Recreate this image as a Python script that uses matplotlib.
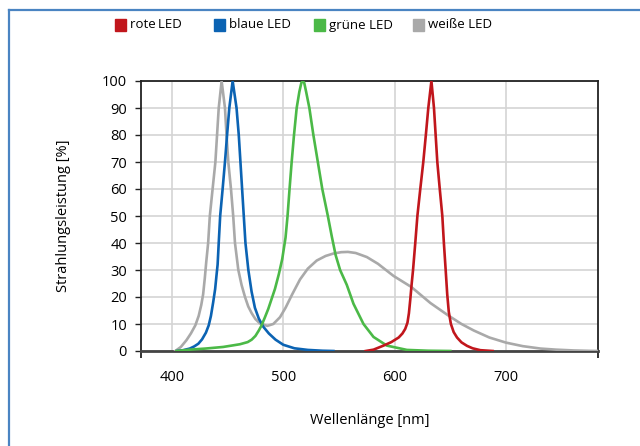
import matplotlib.pyplot as plt
from matplotlib.patches import Rectangle
from matplotlib.lines import Line2D

plt.rcParams['font.family'] = ['Open Sans', 'DejaVu Sans']

# white LED
gray_x = [403, 408, 413, 417, 421, 424, 426.3, 428, 429.5, 430.8, 432.5, 434, 436.5, 439, 440.5,
          442, 444.6, 447.6, 449, 450.6, 453, 455, 456.6, 459.6, 462.5, 465.6, 468.5, 471.6,
          475, 479, 485.6, 491, 497, 502, 508, 515, 522, 530, 538, 545, 552, 558, 565, 575,
          585, 599, 615, 632, 648, 660, 671, 685, 700, 715, 731, 745, 761, 775, 785]
gray_y = [0, 1.5, 4, 6.5, 9.5, 13, 17, 21, 27, 33, 40, 50, 60, 70, 80,
          90, 100, 90, 80, 70, 60, 50, 40, 30, 24.5, 20, 16.5, 14,
          11.8, 10.2, 9.3, 10, 12.5, 16, 21, 26.5, 30.5, 33.5, 35.2, 36.1, 36.6, 36.7, 36.3, 34.8,
          32.3, 27.8, 23.7, 17.8, 13.2, 10, 7.6, 5, 3.1, 1.8, 0.9, 0.5, 0.2, 0.05, 0]
# blue LED
blue_x = [404.5, 410, 416, 420, 423.7, 427, 430.5, 433, 435, 437, 438.8, 440, 441, 442, 443.3,
          445.5, 447.6, 449.5, 451.5, 454.5, 458, 460, 461.5, 463, 464.5, 466, 468.6, 471.5,
          474.5, 478, 482, 487, 493, 500, 510, 522, 535, 545]
blue_y = [0, 0.3, 0.9, 1.7, 2.7, 4.3, 6.8, 9.5, 13, 18, 23, 28, 32, 40, 50,
          60, 70, 80, 90, 100, 90, 80, 70, 60, 50, 40, 30, 22,
          16, 12, 9, 6.5, 4.2, 2.3, 1, 0.4, 0.1, 0]
# green LED
green_x = [404, 416, 430, 446, 461, 468, 471.6, 475, 478, 480.5, 483.5, 486.5, 489.5, 492.5, 496,
           499, 502, 503.8, 505.6, 507.5, 509.6, 512, 514.4, 516.2, 517.4, 518.8, 520.5, 523.4,
           527, 531, 535, 540, 543.5, 547, 551, 557, 563, 572, 581, 593, 611, 630, 650]
green_y = [0, 0.5, 0.9, 1.5, 2.5, 3.3, 4.2, 5.6, 7.6, 9.5, 12.5, 15.6, 19.3, 23, 28.5,
           34, 42, 50, 60, 70, 80, 90, 96, 99.3, 100, 99.3, 96, 90,
           80, 70, 60, 50, 42.5, 35.5, 30, 24.5, 17.5, 10, 5.2, 2, 0.4, 0.1, 0]
# red LED
red_x = [574, 581, 590, 597, 603.6, 607, 609.5, 611.5, 612.8, 614, 615.3, 616.5, 618.5, 620.4,
         623, 625.7, 628, 630.2, 633, 635.3, 636.8, 638.3, 640.5, 642.8, 644.2, 645.8, 647.2,
         648.6, 650.5, 653, 656, 660, 665, 670, 677, 688]
red_y = [0, 0.5, 2, 3.3, 5, 6.5, 8.2, 10.5, 14, 19, 25, 30, 40, 50,
         60, 70, 80, 90, 100, 90, 80, 70, 60, 50, 40, 30, 21,
         14.5, 10, 7, 5, 3.2, 1.9, 1, 0.3, 0]

labels = ['rote\u2009LED', 'blaue LED', 'grüne LED', 'weiße LED']
colors = ['#c1161c', '#0b63b3', '#4bb947', '#a9a9a9']

fig = plt.figure(figsize=(6.4, 4.46), dpi=100)
W, H = 640, 446
ax = fig.add_axes([141 / W, 1 - 351 / H, (598 - 141) / W, (351 - 81) / H])

ax.plot(gray_x, gray_y, color=colors[3], lw=1.9, zorder=3)
ax.plot(blue_x, blue_y, color=colors[1], lw=1.9, zorder=4)
ax.plot(green_x, green_y, color=colors[2], lw=1.9, zorder=4)
ax.plot(red_x, red_y, color=colors[0], lw=1.9, zorder=5)

xmin, xmax = 372.2, 782.6
ax.set_xlim(xmin, xmax)
ax.set_ylim(0, 100)
ax.set_xticks([400, 500, 600, 700])
ax.set_xticks([xmin, xmax], minor=True)
ax.set_yticks(range(0, 101, 10))
ax.grid(True, color='#d4d4d4', lw=1.2)
ax.set_axisbelow(True)
ax.tick_params(axis='x', length=0, labelsize=10.5, pad=14)
ax.tick_params(axis='x', which='minor', length=5, width=1.3, color='#222222')
ax.tick_params(axis='y', length=4, width=1, direction='out', labelsize=10.5, pad=6,
               color='#222222')
for s in ['left', 'top', 'right']:
    ax.spines[s].set_color('#222222')
    ax.spines[s].set_linewidth(1.3)
ax.spines['bottom'].set_color('#444444')
ax.spines['bottom'].set_linewidth(2)

ax.set_xlabel('Wellenlänge [nm]', fontsize=10.5, labelpad=20)
ax.set_ylabel('Strahlungsleistung [%]', fontsize=10.5, labelpad=22)

# legend along the top
for i, (lab, c) in enumerate(zip(labels, colors)):
    x0 = 115 + i * 99.3
    fig.add_artist(Rectangle((x0 / W, 1 - 31 / H), 11 / W, 12 / H, color=c,
                             transform=fig.transFigure))
    fig.text((x0 + 15) / W, 1 - 25 / H, lab, fontsize=9.5, va='center', ha='left')

# blue frame
fig.add_artist(Line2D([9 / W, 9 / W], [0, 1 - 10 / H], color='#4a84c2', lw=1.6,
                      transform=fig.transFigure))
fig.add_artist(Line2D([9 / W, 1], [1 - 10 / H, 1 - 10 / H], color='#4a84c2', lw=1.6,
                      transform=fig.transFigure))

fig.savefig('out.png', dpi=100)
